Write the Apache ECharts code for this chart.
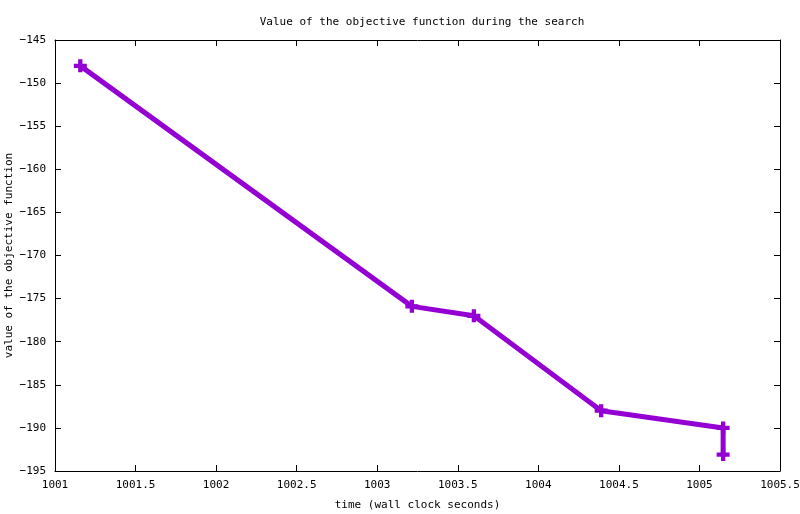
<!DOCTYPE html>
<html>
<head>
<meta charset="utf-8">
<script src="https://cdn.jsdelivr.net/npm/echarts@6/dist/echarts.min.js"></script>
<style>html,body{margin:0;padding:0;background:#fff}#c{width:800px;height:514px}</style>
</head>
<body>
<div id="c"></div>
<script>
var times = [1001.157, 1003.215, 1003.60, 1004.39, 1005.147, 1005.147];
var values = [-148, -175.9, -177.0, -188.0, -190.0, -193.1];
var xTicks = [1001, 1001.5, 1002, 1002.5, 1003, 1003.5, 1004, 1004.5, 1005, 1005.5];
var yTicks = [-195, -190, -185, -180, -175, -170, -165, -160, -155, -150, -145];
var titleText = 'Value of the objective function during the search';
var xName = 'time (wall clock seconds)';
var yName = 'value of the objective function';

var font = 'DejaVu Sans Mono';
var chart = echarts.init(document.getElementById('c'), null, {renderer: 'canvas'});
var fmtX = function (v) { return String(Math.round(v * 10) / 10); };
var fmtY = function (v) { return String(v).replace('-', '\u2212'); };
var axisCommon = {
  axisLine: {show: true, lineStyle: {color: '#000', width: 1}},
  axisTick: {show: true, inside: true, length: 6, lineStyle: {color: '#000'}},
  splitLine: {show: false}
};
chart.setOption({
  animation: false,
  backgroundColor: '#fff',
  title: {text: titleText, left: 417, textAlign: 'center', top: 12,
    textStyle: {fontFamily: font, fontSize: 11, fontWeight: 'normal', color: '#000'}},
  grid: {left: 55, right: 20, top: 40, bottom: 43, containLabel: false, outerBoundsMode: 'none'},
  xAxis: [
    Object.assign({type: 'value', min: xTicks[0], max: xTicks[xTicks.length - 1], interval: 0.5,
      position: 'bottom',
      name: xName, nameLocation: 'middle', nameGap: 29, nameMoveOverlap: false,
      nameTextStyle: {fontFamily: font, fontSize: 11, color: '#000'},
      axisLabel: {fontFamily: font, fontSize: 11, color: '#000', margin: 9, formatter: fmtX}}, axisCommon),
    Object.assign({type: 'value', min: xTicks[0], max: xTicks[xTicks.length - 1], interval: 0.5,
      position: 'top', axisLabel: {show: false}}, axisCommon)
  ],
  yAxis: [
    Object.assign({type: 'value', min: yTicks[0], max: yTicks[yTicks.length - 1], interval: 5,
      position: 'left',
      name: yName, nameLocation: 'middle', nameGap: 40, nameRotate: 90, nameMoveOverlap: false,
      nameTextStyle: {fontFamily: font, fontSize: 11, color: '#000'},
      axisLabel: {fontFamily: font, fontSize: 11, color: '#000', margin: 9, formatter: fmtY}}, axisCommon),
    Object.assign({type: 'value', min: yTicks[0], max: yTicks[yTicks.length - 1], interval: 5,
      position: 'right', axisLabel: {show: false}}, axisCommon)
  ],
  series: [{
    type: 'line',
    data: times.map(function (t, i) { return [t, values[i]]; }),
    lineStyle: {color: '#9400D3', width: 5},
    itemStyle: {color: '#9400D3'},
    symbol: 'path://M4,0H8V4H12V8H8V12H4V8H0V4H4Z',
    symbolSize: 13,
    showAllSymbol: true,
    clip: false
  }]
});
</script>
</body>
</html>
